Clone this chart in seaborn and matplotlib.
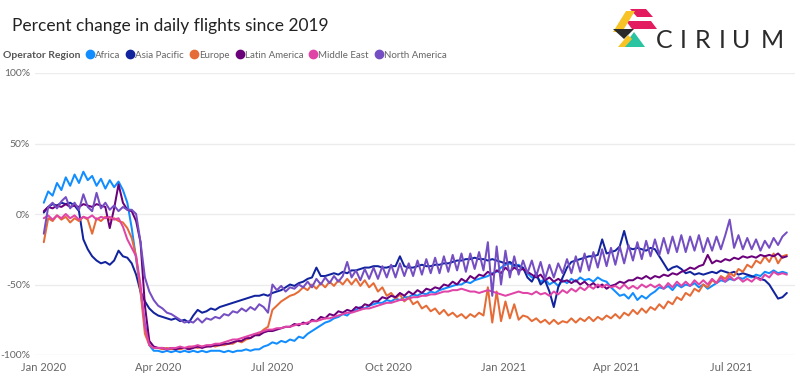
import numpy as np
import pandas as pd
import matplotlib
matplotlib.use("Agg")
import matplotlib.pyplot as plt
import seaborn as sns
from matplotlib.lines import Line2D
from matplotlib.patches import Polygon

# one sample every 3.5 days from 1 Jan 2020 (peak / trough of the weekly cycle)
dates = pd.date_range("2020-01-01", periods=170, freq="84h")

regions = ["Africa", "Asia Pacific", "Europe", "Latin America", "Middle East", "North America"]
colors = ["#118DFF", "#12239E", "#E66C37", "#6B007B", "#E044A7", "#744EC2"]

africa = [
    8, 16, 13, 22, 17, 26, 20, 28, 22, 30,
    24, 27, 20, 25, 18, 24, 19, 23, 17, 8,
    -10, -32, -55, -78, -93, -97, -97, -98, -97, -98,
    -97, -98, -97, -98, -97, -98, -97, -98, -97, -97,
    -97, -98, -97, -98, -97, -97, -96, -97, -96, -96,
    -94, -93, -91, -92, -90, -91, -89, -90, -87, -88,
    -85, -83, -81, -79, -77, -76, -74, -73, -71, -72,
    -69, -68, -66, -67, -65, -64, -63, -63, -61, -62,
    -60, -61, -59, -59, -57, -58, -56, -57, -55, -56,
    -54, -53, -52, -51, -50, -50, -48, -49, -47, -46,
    -45, -44, -42, -41, -38, -36, -35, -37, -36, -39,
    -42, -45, -44, -48, -46, -50, -48, -51, -47, -49,
    -46, -48, -45, -47, -46, -48, -45, -47, -48, -52,
    -55, -58, -57, -60, -56, -61, -58, -60, -57, -55,
    -52, -53, -51, -54, -50, -52, -50, -51, -49, -52,
    -50, -53, -51, -49, -47, -48, -46, -47, -45, -46,
    -44, -45, -43, -44, -41, -42, -40, -42, -41, -42,
]
asia_pacific = [
    1, 5, 7, 6, 8, 7, 8, 6, 2, -18,
    -25, -30, -33, -35, -34, -36, -33, -26, -30, -31,
    -35, -43, -55, -62, -67, -70, -72, -73, -74, -75,
    -74, -76, -75, -77, -72, -68, -70, -69, -67, -68,
    -66, -65, -64, -63, -62, -61, -60, -59, -58, -58,
    -57, -58, -56, -55, -54, -52, -50, -51, -49, -48,
    -46, -45, -38, -44, -44, -43, -42, -43, -41, -42,
    -40, -40, -39, -38, -38, -37, -37, -38, -38, -37,
    -37, -30, -37, -38, -38, -37, -36, -37, -37, -36,
    -36, -35, -35, -34, -33, -33, -32, -32, -31, -32,
    -32, -33, -32, -33, -34, -35, -34, -36, -37, -38,
    -45, -48, -42, -50, -47, -55, -66, -52, -45, -38,
    -34, -33, -32, -31, -30, -30, -29, -18, -28, -27,
    -26, -23, -12, -24, -25, -24, -25, -26, -24, -25,
    -30, -35, -40, -38, -37, -39, -42, -41, -43, -42,
    -43, -42, -41, -42, -40, -41, -42, -41, -43, -42,
    -43, -44, -45, -46, -47, -50, -55, -60, -59, -56,
]
europe = [
    -20, -3, -5, -1, -4, -2, -6, -3, -5, -2,
    -4, -14, -3, -5, -2, -4, -3, -5, -6, -10,
    -17, -30, -55, -85, -93, -95, -95, -96, -95, -96,
    -95, -96, -95, -95, -94, -95, -94, -94, -93, -94,
    -93, -93, -92, -92, -90, -91, -89, -88, -86, -85,
    -82, -80, -68, -65, -62, -60, -58, -57, -55, -52,
    -54, -50, -53, -49, -52, -48, -51, -47, -50, -46,
    -50, -46, -51, -47, -52, -49, -55, -52, -58, -56,
    -60, -57, -62, -59, -64, -62, -67, -65, -69, -67,
    -71, -68, -72, -70, -73, -71, -74, -71, -73, -70,
    -72, -52, -77, -55, -76, -62, -74, -64, -75, -72,
    -73, -76, -74, -77, -75, -78, -75, -78, -76, -77,
    -74, -77, -74, -76, -73, -76, -73, -75, -72, -74,
    -71, -74, -70, -72, -68, -71, -67, -70, -66, -68,
    -64, -67, -62, -64, -59, -61, -56, -58, -53, -55,
    -50, -52, -47, -49, -44, -46, -42, -44, -39, -41,
    -36, -38, -33, -35, -30, -34, -28, -35, -30, -29,
]
latin_america = [
    2, 5, 4, 6, 5, 7, 5, 6, 5, 7,
    6, 5, 7, 6, 5, -10, 4, 21, 8, 3,
    2, -5, -20, -65, -90, -94, -95, -95, -96, -95,
    -96, -95, -95, -96, -95, -94, -95, -94, -94, -93,
    -93, -92, -92, -91, -90, -90, -88, -88, -86, -86,
    -84, -83, -83, -82, -81, -80, -80, -78, -79, -77,
    -78, -75, -76, -73, -74, -71, -72, -69, -70, -68,
    -69, -66, -67, -64, -65, -62, -62, -59, -60, -58,
    -59, -56, -58, -55, -57, -54, -56, -53, -54, -52,
    -53, -50, -51, -48, -50, -46, -48, -44, -46, -43,
    -44, -41, -43, -40, -42, -38, -41, -38, -40, -39,
    -41, -43, -45, -43, -47, -45, -48, -46, -48, -47,
    -49, -47, -50, -48, -51, -49, -52, -50, -53, -51,
    -50, -48, -49, -47, -47, -45, -46, -44, -46, -44,
    -45, -43, -44, -42, -43, -41, -40, -38, -39, -37,
    -36, -29, -35, -33, -34, -32, -33, -31, -32, -30,
    -31, -30, -31, -29, -30, -29, -30, -28, -31, -30,
]
middle_east = [
    -3, -1, -4, -1, -3, 0, -3, -1, -4, -2,
    -3, -1, -4, -2, -3, -2, -4, -3, -9, -18,
    -24, -30, -50, -80, -93, -95, -95, -95, -96, -95,
    -95, -94, -95, -94, -94, -93, -94, -93, -93, -92,
    -92, -91, -90, -89, -89, -88, -87, -86, -85, -84,
    -83, -82, -82, -81, -81, -80, -80, -79, -78, -78,
    -77, -76, -76, -75, -74, -74, -73, -72, -71, -70,
    -70, -69, -68, -67, -67, -66, -65, -64, -63, -63,
    -62, -61, -61, -60, -59, -59, -58, -58, -57, -57,
    -56, -55, -55, -54, -54, -53, -54, -55, -55, -56,
    -55, -54, -55, -56, -57, -58, -57, -56, -55, -56,
    -56, -57, -55, -57, -56, -58, -55, -57, -54, -56,
    -53, -55, -52, -54, -51, -53, -50, -52, -50, -52,
    -51, -53, -50, -53, -51, -53, -50, -52, -50, -52,
    -50, -53, -49, -52, -48, -51, -48, -51, -47, -50,
    -47, -50, -46, -49, -45, -48, -44, -47, -45, -48,
    -46, -48, -45, -47, -43, -45, -41, -43, -42, -43,
]
north_america = [
    -14, 5, 8, 4, 9, 12, 4, 8, 3, 14,
    5, 2, 15, 4, 8, 3, 6, 2, 5, 3,
    3, 0, -20, -45, -55, -61, -65, -67, -70, -71,
    -73, -75, -77, -76, -77, -74, -77, -74, -75, -73,
    -74, -71, -72, -69, -70, -67, -69, -66, -68, -64,
    -66, -70, -50, -54, -51, -55, -52, -53, -50, -52,
    -48, -52, -46, -50, -45, -49, -44, -48, -44, -34,
    -45, -40, -47, -39, -46, -38, -46, -37, -45, -36,
    -45, -35, -44, -35, -44, -33, -43, -32, -42, -31,
    -42, -30, -41, -29, -40, -28, -41, -28, -39, -27,
    -40, -20, -58, -23, -50, -26, -45, -30, -43, -33,
    -42, -33, -44, -34, -46, -36, -45, -35, -42, -32,
    -42, -30, -41, -28, -40, -27, -38, -25, -37, -24,
    -36, -23, -35, -22, -33, -20, -32, -19, -30, -18,
    -29, -17, -28, -16, -27, -15, -27, -16, -26, -15,
    -27, -17, -26, -16, -25, -15, -4, -24, -15, -25,
    -17, -25, -18, -26, -19, -24, -17, -22, -16, -13,
]

series = [africa, asia_pacific, europe, latin_america, middle_east, north_america]
df = pd.concat(
    [pd.DataFrame({"date": dates, "pct": vals, "region": reg}) for reg, vals in zip(regions, series)],
    ignore_index=True,
)

yticks = [-100, -50, 0, 50, 100]
xticks = pd.to_datetime(["2020-01-01", "2020-04-01", "2020-07-01", "2020-10-01",
                         "2021-01-01", "2021-04-01", "2021-07-01"])

sns.set_style("white")
plt.rcParams["font.family"] = ["Lato", "DejaVu Sans"]

W, H = 800, 376
fig = plt.figure(figsize=(8, 3.76), dpi=100)
ax = fig.add_axes([35 / W, 21 / H, 760 / W, 282 / H])

sns.lineplot(data=df, x="date", y="pct", hue="region", hue_order=regions,
             palette=dict(zip(regions, colors)), linewidth=1.45, legend=False, ax=ax)

ax.set_ylim(-100, 100)
ax.set_xlim(pd.Timestamp("2019-12-25"), pd.Timestamp("2021-08-21"))
ax.set_yticks(yticks)
ax.set_yticklabels([f"{v}%" for v in yticks])
ax.set_xticks(xticks)
ax.set_xticklabels([d.strftime("%b %Y") for d in xticks])
ax.set_xlabel("")
ax.set_ylabel("")
ax.yaxis.grid(True, color="#ececec", linewidth=1)
ax.xaxis.grid(False)
ax.set_axisbelow(True)
for s in ax.spines.values():
    s.set_visible(False)
ax.tick_params(axis="both", length=0, labelcolor="#666666")
ax.tick_params(axis="y", pad=3.5, labelsize=7.5)
ax.tick_params(axis="x", pad=5, labelsize=8)

# title
fig.text(12 / W, 1 - 31 / H, "Percent change in daily flights since 2019",
         fontsize=12.5, color="#222222", ha="left", va="baseline")

# legend
fig.text(3 / W, 1 - 55 / H, "Operator Region", fontsize=7.5, fontweight="bold",
         color="#555555", ha="left", va="center")
handles = [Line2D([], [], linestyle="none", marker="o", markersize=6, color=c) for c in colors]
fig.legend(handles, regions, loc="center left", bbox_to_anchor=(85 / W, 1 - 55 / H),
           ncol=6, frameon=False, fontsize=7, labelcolor="#666666",
           handletextpad=0.0, columnspacing=0.55, handlelength=1.0, borderaxespad=0, borderpad=0)

# Cirium logo
logo = fig.add_axes([608 / W, 1 - 50 / H, 52 / W, 45 / H])
logo.set_xlim(608, 660)
logo.set_ylim(50, 5)
logo.axis("off")
shapes = [
    ([(630, 9), (646, 9), (653, 17), (637, 17)], "#E31C5F"),
    ([(626, 21), (651, 21), (657, 29), (632, 29)], "#E31C5F"),
    ([(613, 32), (626, 11), (635, 11), (622, 32)], "#F7C325"),
    ([(613, 29), (634, 29), (624, 39)], "#2a2a2a"),
    ([(623, 47), (634, 32), (645, 47)], "#2BC4A3"),
    ([(618, 47), (628, 35), (632, 39), (625, 47)], "#F7C325"),
]
for pts, c in shapes:
    logo.add_patch(Polygon(pts, closed=True, color=c, lw=0))

for letter, xp in zip("CIRIUM", [664, 683, 703, 722, 741, 772]):
    fig.text(xp / W, 1 - 40 / H, letter, fontsize=18, color="#2b2b2b",
             ha="center", va="center")

fig.savefig("out.png", dpi=100)
